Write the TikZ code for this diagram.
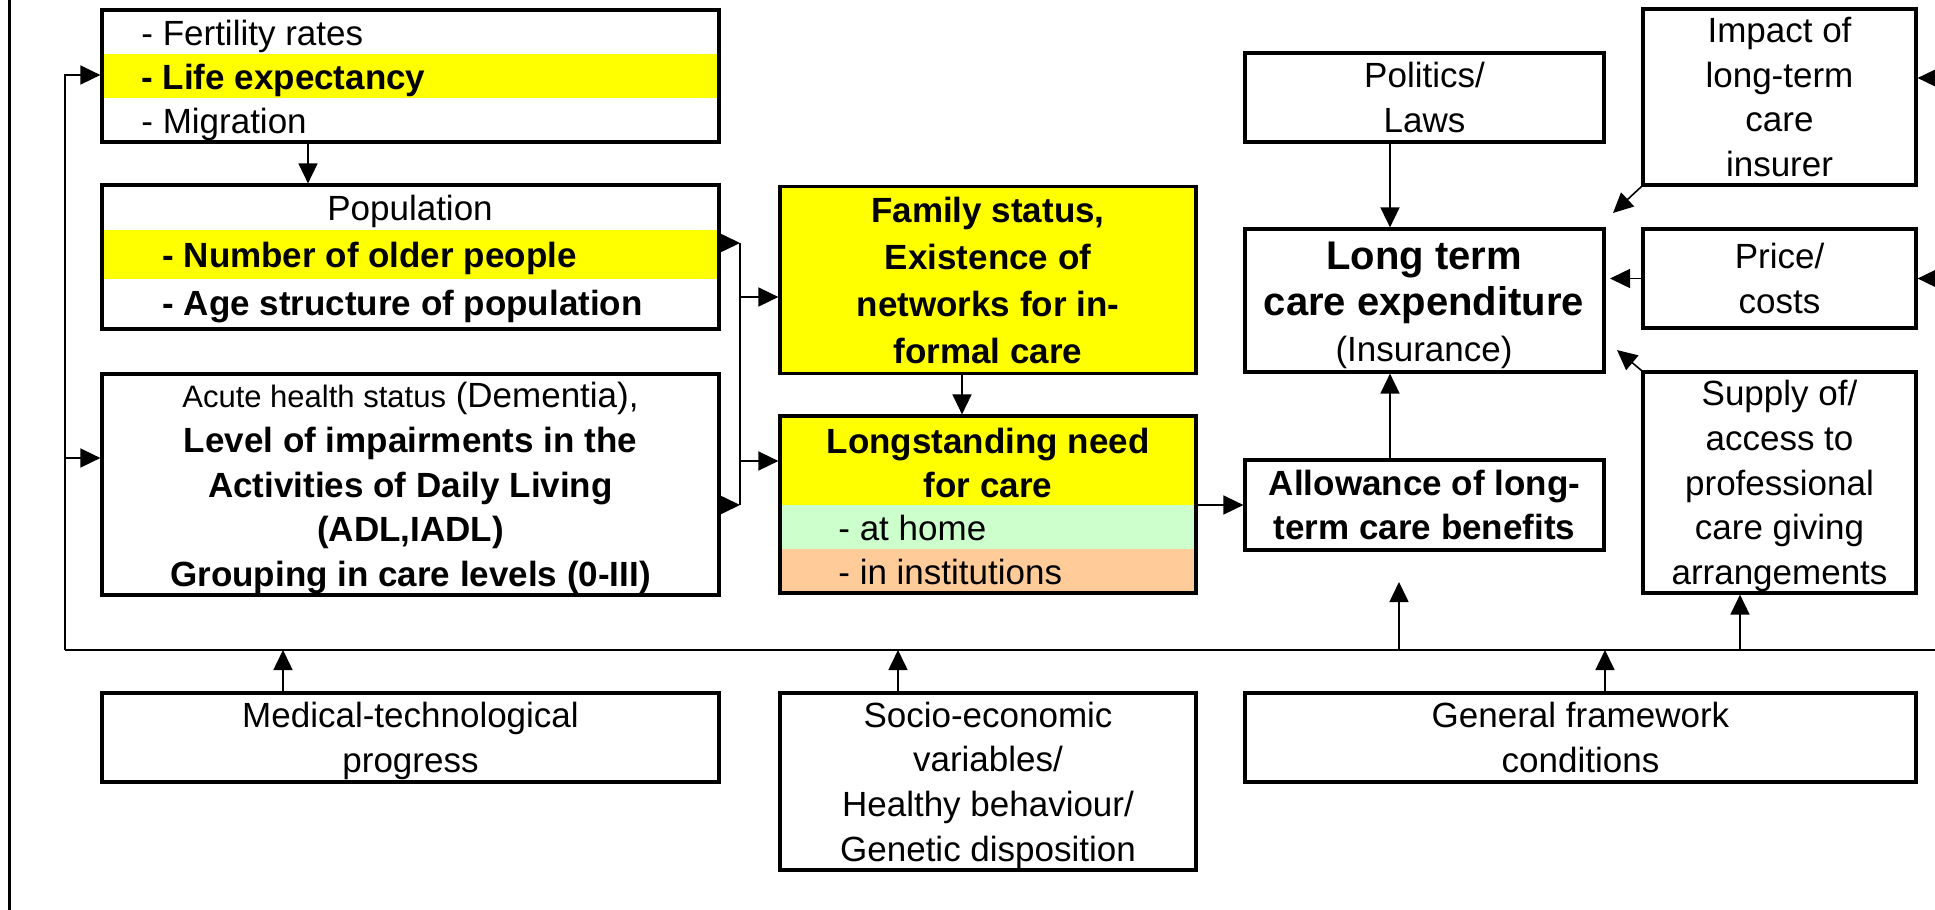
\documentclass[tikz,border=0pt]{standalone}
\usepackage{fontspec}
\setmainfont{Liberation Sans}
\usetikzlibrary{arrows.meta}
\newcommand\fN{\fontsize{17.5}{22.3}\selectfont}
\newcommand\fB{\fontsize{17.5}{22.3}\selectfont\bfseries}
\newcommand\fBig{\fontsize{20}{22.5}\selectfont\bfseries}
\newcommand\fS{\fontsize{15.5}{22.3}\selectfont}
\definecolor{hlyellow}{HTML}{FFFF00}
\definecolor{hlgreen}{HTML}{CCFFCC}
\definecolor{hlorange}{HTML}{FFCC99}
\begin{document}
\begin{tikzpicture}[x=0.5pt,y=-0.5pt,
  box/.style={draw, line width=1.6pt, inner sep=0pt, align=center, font=\fN, text depth=0pt},
  arr/.style={line width=0.8pt, -{Triangle[length=10pt,width=9.5pt]}},
  conn/.style={line width=0.8pt},
  mainline/.style={line width=1pt},
  txt/.style={inner sep=0pt, font=\fN},
]
\useasboundingbox (0,0) rectangle (1935,910);

% left border line
\draw[line width=1.5pt] (9,0) -- (9,910);

% coloured rows
\fill[hlyellow] (102,54) rectangle (719,98);
\fill[hlyellow] (102,230) rectangle (719,279);
\fill[hlyellow] (780,185) rectangle (1196,372);
\fill[hlyellow] (780,416) rectangle (1196,505);
\fill[hlgreen] (780,505) rectangle (1196,549);
\fill[hlorange] (780,549) rectangle (1196,593);

% left column
\node[box, minimum width=308.5pt, minimum height=66pt] (fert) at (410.5,76) {};
\node[txt, anchor=west] (fert1) at (141,36) {- Fertility rates};
\node[txt, anchor=west, font=\fB] (fert2) at (141,80) {- Life expectancy};
\node[txt, anchor=west] (fert3) at (141,124) {- Migration};

\node[box, minimum width=308.5pt, minimum height=72pt] (pop) at (410.5,257) {};
\node[txt] (pop1) at (410,211) {Population};
\node[txt, anchor=west, font=\fB] (pop2) at (162,258) {- Number of older people};
\node[txt, anchor=west, font=\fB] (pop3) at (162,307) {- Age structure of population};

\node[box, minimum width=308.5pt, minimum height=110.5pt] (acute) at (410.5,484.5)
  {{\fS Acute health status} (Dementia),\\
  \bfseries Level of impairments in the\\
  \bfseries Activities of Daily Living\\
  \bfseries (ADL,IADL)\\
  \bfseries Grouping in care levels (0-III)};

% middle column
\node[box, minimum width=208pt, minimum height=93.5pt, font={\fontsize{17.5}{23.5}\selectfont\bfseries}] (fam) at (988,280)
  {Family status,\\ Existence of\\ networks for in-\\ formal care};

\node[box, minimum width=208pt, minimum height=88.5pt] (need) at (988,504.5) {};
\node[txt, font=\fB, align=center] (need1) at (988,463) {Longstanding need\\ for care};
\node[txt, anchor=west] (need2) at (838,528) {- at home};
\node[txt, anchor=west] (need3) at (838,572) {- in institutions};

% right-middle column
\node[box, minimum width=179.5pt, minimum height=44.5pt] (pol) at (1424.5,97.5) {Politics/\\ Laws};
\node[box, minimum width=179.5pt, minimum height=71.5pt] (ltc) at (1424.5,300.5) {};
\node[txt, font=\fBig] (ltc1) at (1424,260) {Long term};
\node[txt, font=\fBig] (ltc2) at (1424,305) {care expenditure};
\node[txt] (ltc3) at (1424,352) {(Insurance)};
\node[box, minimum width=179.5pt, minimum height=45pt, font=\fB] (allow) at (1424.5,505) {Allowance of long-\\ term care benefits};

% right column
\node[box, minimum width=136.5pt, minimum height=88pt] (imp) at (1779.5,97) {Impact of\\ long-term\\ care\\ insurer};
\node[box, minimum width=136.5pt, minimum height=49.5pt] (price) at (1779.5,278.5) {Price/\\ costs};
\node[box, minimum width=136.5pt, minimum height=110.5pt] (sup) at (1779.5,482.5) {Supply of/\\ access to\\ professional\\ care giving\\ arrangements};

% bottom row
\node[box, minimum width=308.5pt, minimum height=44.5pt] (med) at (410.5,737.5) {Medical-technological\\ progress};
\node[box, minimum width=208pt, minimum height=88.5pt] (soc) at (988,781.5) {Socio-economic\\ variables/\\ Healthy behaviour/\\ Genetic disposition};
\node[box, minimum width=335.5pt, minimum height=44.5pt] (gen) at (1580.5,737.5) {General framework\\ conditions};

% helper coordinates
\coordinate (lineL) at (65,650);
\coordinate (lineR) at (1935,650);
\coordinate (y75) at (0,75);
\coordinate (y458) at (0,458);
\coordinate (brx) at (740,0);
\coordinate (y243) at (0,243);
\coordinate (y505) at (0,505);
\coordinate (y297) at (0,297);
\coordinate (y461) at (0,461);
\coordinate (x308) at (308,0);
\coordinate (x962) at (962,0);
\coordinate (x1390) at (1390,0);
\coordinate (x1399) at (1399,0);
\coordinate (tAllow) at (1399,582);
\coordinate (x1740) at (1740,0);
\coordinate (x283) at (283,0);
\coordinate (x898) at (898,0);
\coordinate (x1605) at (1605,0);
\coordinate (dImp) at (1613,213);
\coordinate (dPrice) at (1610,278.5);
\coordinate (dSup) at (1617,350);
\coordinate (rE1) at (1935,78);
\coordinate (rE2) at (1935,278.5);

% main horizontal line and feedback
\draw[mainline] (lineL) -- (lineR);
\draw[arr] (lineL) |- (fert.west |- y75);
\draw[arr] (lineL |- y458) -- (acute.west |- y458);

% left column connectors
\draw[arr] (fert.south -| x308) -- (pop.north -| x308);
\draw[arr] (pop.east |- y243) -- (brx |- y243);
\draw[arr] (acute.east |- y505) -- (brx |- y505);
\draw[conn] (brx |- y243) -- (brx |- y505);
\draw[arr] (brx |- y297) -- (fam.west |- y297);
\draw[arr] (brx |- y461) -- (need.west |- y461);

% middle
\draw[arr] (fam.south -| x962) -- (need.north -| x962);
\draw[arr] (need.east |- y505) -- (allow.west |- y505);

% right-middle
\draw[arr] (pol.south -| x1390) -- (ltc.north -| x1390);
\draw[arr] (allow.north -| x1390) -- (ltc.south -| x1390);
\draw[arr] (lineL -| x1399) -- (tAllow);

% right column
\draw[arr] (imp.south west) -- (dImp);
\draw[arr] (price.west) -- (dPrice);
\draw[arr] (sup.north west) -- (dSup);
\draw[arr] (rE1) -- (imp.east |- rE1);
\draw[arr] (rE2) -- (price.east |- rE2);
\draw[arr] (lineL -| x1740) -- (sup.south -| x1740);

% bottom row
\draw[arr] (med.north -| x283) -- (lineL -| x283);
\draw[arr] (soc.north -| x898) -- (lineL -| x898);
\draw[arr] (gen.north -| x1605) -- (lineL -| x1605);
\end{tikzpicture}
\end{document}
